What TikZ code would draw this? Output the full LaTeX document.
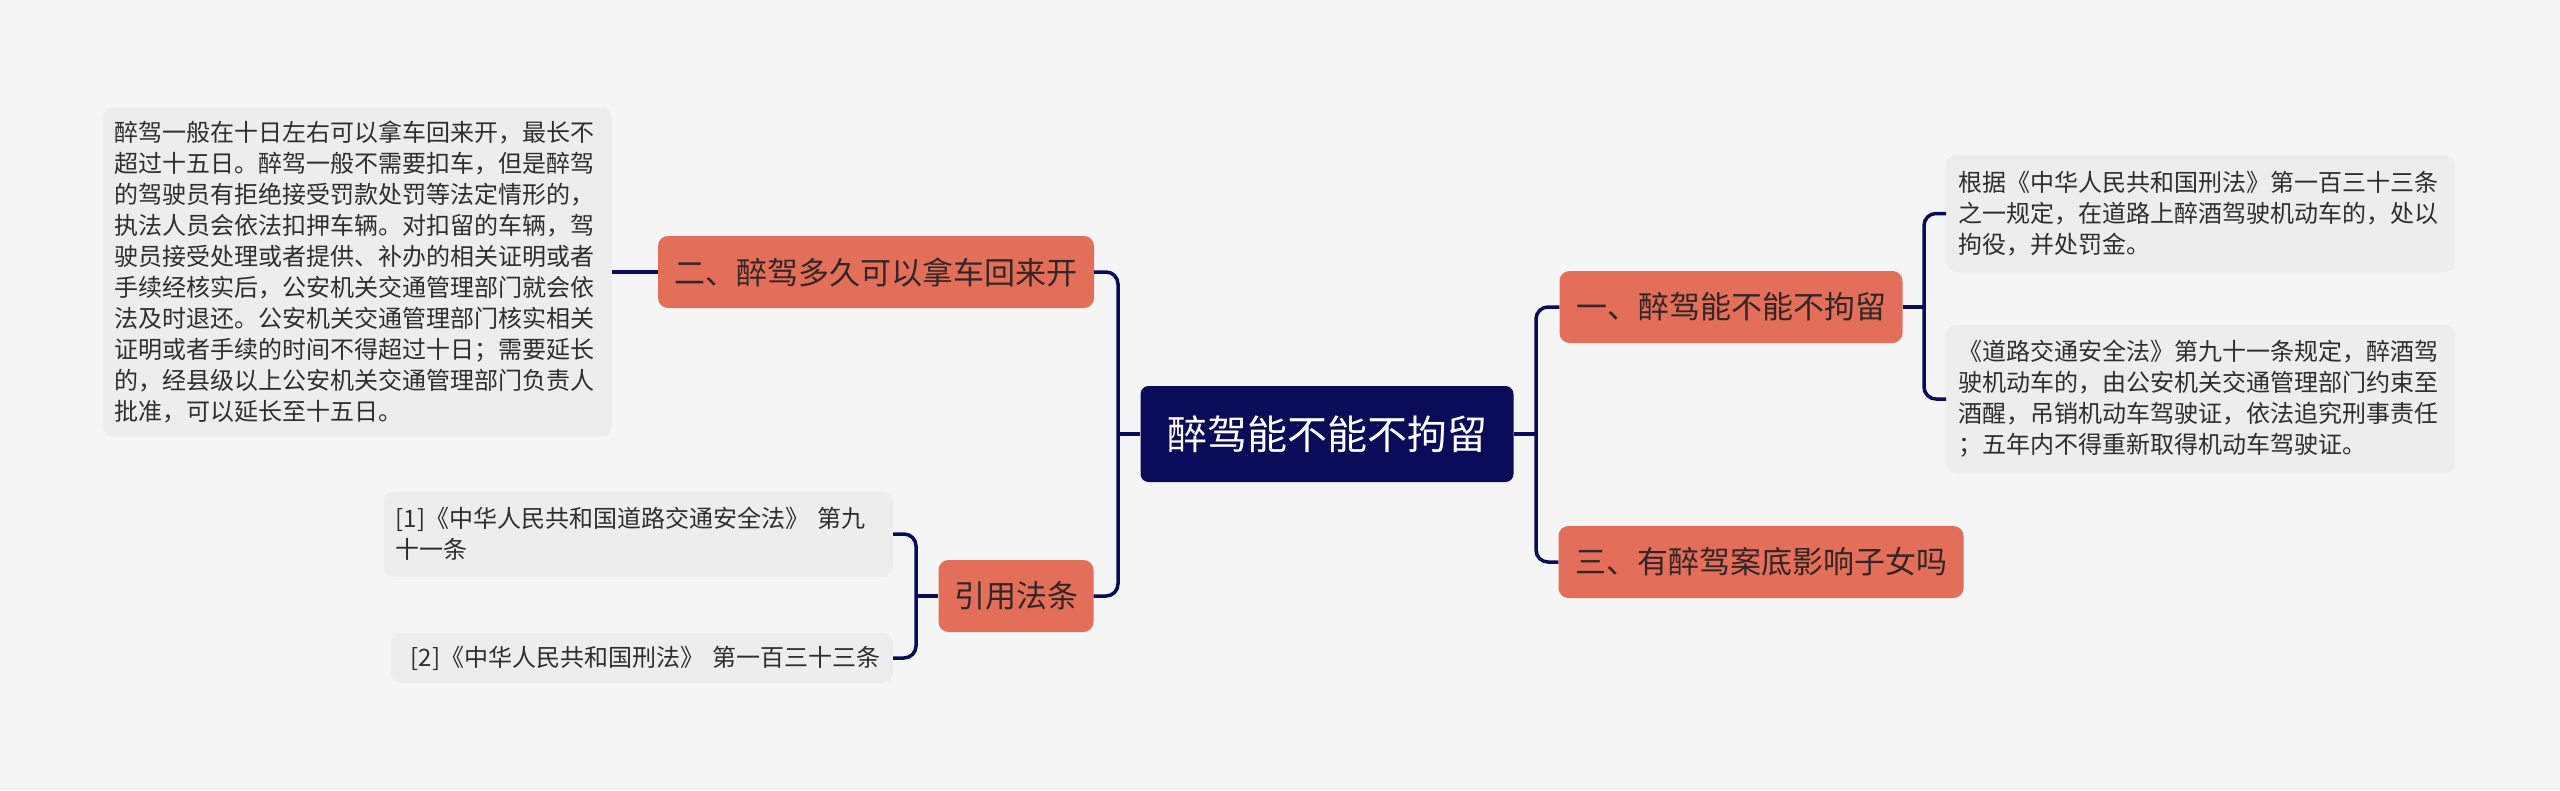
\documentclass[tikz,border=0pt]{standalone}
\usepackage{fontspec}
\setmainfont{Noto Sans CJK SC}
\usepackage{tikz}
\definecolor{bgcol}{HTML}{F5F5F5}
\definecolor{navy}{HTML}{0A0C5A}
\definecolor{coral}{HTML}{E36E59}
\definecolor{topictext}{HTML}{332626}
\definecolor{leafcol}{HTML}{EDEDED}
\definecolor{leaftext}{HTML}{2E2E2E}

\begin{document}
\begin{tikzpicture}[x=1pt,y=-1pt,
  link/.style={draw=navy,line width=3.5pt,rounded corners=12pt},
  rootbox/.style={fill=navy,text=white,rounded corners=8pt,minimum width=373pt,
    minimum height=96pt,font=\fontsize{40}{48}\selectfont},
  topic/.style={fill=coral,text=topictext,rounded corners=10pt,minimum height=72pt,
    font=\fontsize{31}{37}\selectfont},
  leaf/.style={fill=leafcol,text=leaftext,rounded corners=10pt,text width=485pt,
    inner xsep=12pt,align=left,font=\fontsize{24}{31}\selectfont}]
\fill[bgcol] (0,0) rectangle (2560,790);

% centre and topics
\node[rootbox] (root) at (1327,434) {醉驾能不能不拘留};
\node[topic,minimum width=436pt] (t2) at (876,272) {二、醉驾多久可以拿车回来开};
\node[topic,minimum width=155pt] (t4) at (1016,596) {引用法条};
\node[topic,minimum width=343pt] (t1) at (1731,307) {一、醉驾能不能不拘留};
\node[topic,minimum width=405pt] (t3) at (1761,562) {三、有醉驾案底影响子女吗};

% leaves
\node[leaf,anchor=east,minimum height=329pt] (keep) at (612,272)
  {醉驾一般在十日左右可以拿车回来开，最长不\\超过十五日。醉驾一般不需要扣车，但是醉驾\\的驾驶员有拒绝接受罚款处罚等法定情形的，\\执法人员会依法扣押车辆。对扣留的车辆，驾\\驶员接受处理或者提供、补办的相关证明或者\\手续经核实后，公安机关交通管理部门就会依\\法及时退还。公安机关交通管理部门核实相关\\证明或者手续的时间不得超过十日；需要延长\\的，经县级以上公安机关交通管理部门负责人\\批准，可以延长至十五日。};
\node[leaf,anchor=east,minimum height=85pt] (ref1) at (893,534)
  {[1]《中华人民共和国道路交通安全法》 第九\\十一条};
\node[leaf,anchor=east,minimum height=50pt,text width=478pt] (ref2) at (893,658)
  {\ [2]《中华人民共和国刑法》 第一百三十三条};
\node[leaf,anchor=west,minimum height=117pt] (lawa) at (1946,213.5)
  {根据《中华人民共和国刑法》第一百三十三条\\之一规定，在道路上醉酒驾驶机动车的，处以\\拘役，并处罚金。};
\node[leaf,anchor=west,minimum height=148pt] (lawb) at (1946,399)
  {《道路交通安全法》第九十一条规定，醉酒驾\\驶机动车的，由公安机关交通管理部门约束至\\酒醒，吊销机动车驾驶证，依法追究刑事责任\\；五年内不得重新取得机动车驾驶证。};

% connectors
\coordinate (lt) at (1118,434);
\coordinate (rt) at (1536,434);
\coordinate (lr) at (916,596);
\coordinate (rb) at (1924,307);
\draw[link] (root.west) -- (lt);
\draw[link] (t2.east) -| (lt) |- (t4.east);
\draw[link] (root.east) -- (rt);
\draw[link] (t1.west) -| (rt) |- (t3.west);
\draw[link] (t2.west) -- (keep.east);
\draw[link] (t4.west) -- (lr);
\draw[link] (ref1.east) -| (lr) |- (ref2.east);
\draw[link] (t1.east) -- (rb);
\draw[link] (lawa.west) -| (rb) |- (lawb.west);
\end{tikzpicture}
\end{document}
